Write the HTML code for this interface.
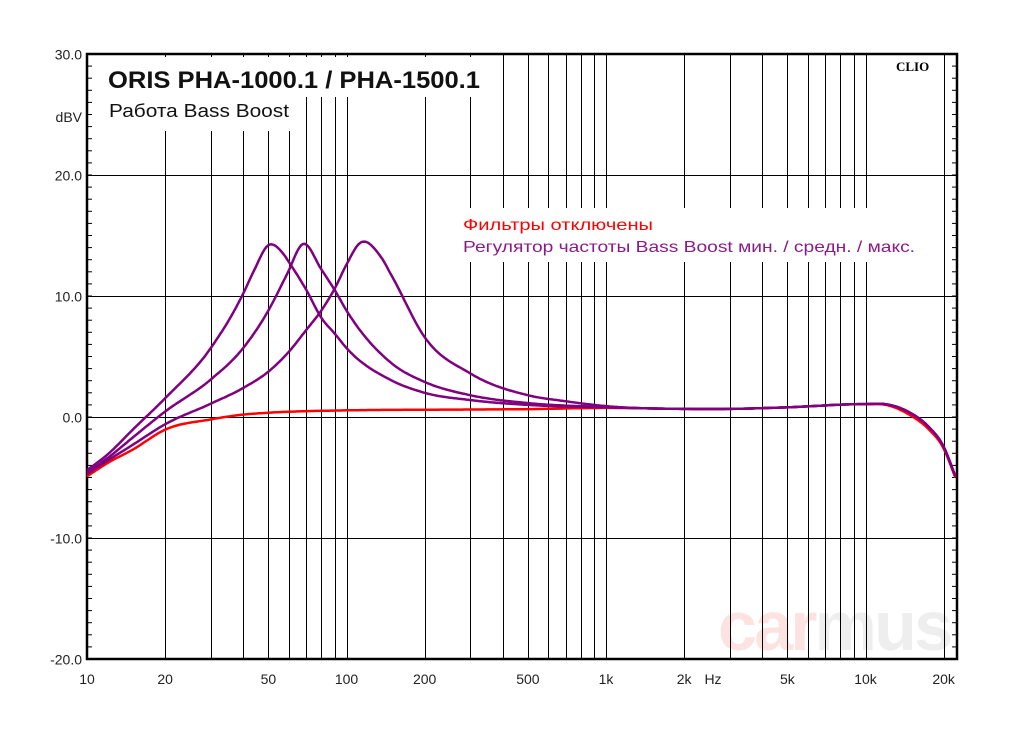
<!DOCTYPE html>
<html><head><meta charset="utf-8"><style>
html,body{margin:0;padding:0;background:#fff;width:1024px;height:730px;overflow:hidden}
svg text{font-family:"Liberation Sans",sans-serif}
</style></head><body>
<svg id="chart" width="1024" height="730" viewBox="0 0 1024 730" xmlns="http://www.w3.org/2000/svg">
<g id="wm"><text x="718" y="650" font-size="70" font-weight="bold" letter-spacing="-3" textLength="232"><tspan fill="#fde2e2">car</tspan><tspan fill="#eeeeee">mus</tspan></text></g>
<g id="grid"></g>
<rect x="100" y="57" width="392" height="40" fill="#fff"/>
<rect x="100" y="97" width="200" height="34" fill="#fff"/>
<rect x="458" y="208" width="464" height="54" fill="#fff"/>
<g id="axes"></g>
<g id="curves"></g>
<text x="108" y="88" font-size="24" font-weight="bold" fill="#111" textLength="372" lengthAdjust="spacingAndGlyphs">ORIS PHA-1000.1 / PHA-1500.1</text>
<text x="109" y="117" font-size="18" fill="#111" textLength="180" lengthAdjust="spacingAndGlyphs">Работа Bass Boost</text>
<text x="463" y="230" font-size="16" fill="#ff0000" textLength="190" lengthAdjust="spacingAndGlyphs">Фильтры отключены</text>
<text x="463" y="252" font-size="16" fill="#8b1a8b" textLength="452" lengthAdjust="spacingAndGlyphs">Регулятор частоты Bass Boost мин. / средн. / макс.</text>
<text x="896" y="71" font-size="13" font-weight="bold" style="font-family:'Liberation Serif',serif">CLIO</text>
<text x="82" y="122" font-size="14" text-anchor="end" fill="#222">dBV</text>
<text x="713" y="684" font-size="14" text-anchor="middle" fill="#222">Hz</text>
</svg>
<script>
const yTicks=[30,20,10,0,-10,-20];
const yTickLabels=["30.0","20.0","10.0","0.0","-10.0","-20.0"];
const xTicks=[10,20,50,100,200,500,1000,2000,5000,10000,20000];
const xTickLabels=["10","20","50","100","200","500","1k","2k","5k","10k","20k"];
const redFreqs=[10,12,15,20,30,40,50,100,200,500,1000,2000,3000,5000,10000,12000,15000,17500,20000,22200];
const redVals=[-4.9,-3.8,-2.7,-1.05,-0.2,0.2,0.35,0.55,0.6,0.65,0.75,0.67,0.67,0.8,1.05,1.0,0.1,-1.0,-2.6,-5.0];
const minFreqs=[10,12,15,20,30,40,44,50,57,60,70,80,90,100,150,200,300,500,1000,2000,3000,5000,10000,12000,15000,17500,20000,22200];
const minVals=[-4.4,-3.1,-1.05,1.55,5.7,10.2,12.1,14.2,13.5,12.8,10.5,8.2,6.9,5.7,3.0,2.0,1.4,1.0,0.8,0.67,0.67,0.8,1.07,1.05,0.3,-0.8,-2.45,-4.9];
const midFreqs=[10,12,15,20,30,40,50,59,68,80,90,100,150,200,300,500,1000,2000,3000,5000,10000,12000,15000,17500,20000,22200];
const midVals=[-4.6,-3.4,-1.7,0.45,3.1,5.7,8.8,11.8,14.3,12.2,10.5,8.8,4.4,2.9,1.8,1.15,0.82,0.67,0.67,0.8,1.07,1.05,0.3,-0.8,-2.45,-4.9];
const maxFreqs=[10,12,15,20,30,40,50,60,70,80,90,100,113,135,150,200,300,500,700,1000,2000,3000,5000,10000,12000,15000,17500,20000,22200];
const maxVals=[-4.7,-3.6,-2.3,-0.6,1.1,2.4,3.75,5.4,7.2,8.8,10.6,12.6,14.4,13.3,11.6,6.6,3.6,1.8,1.3,0.9,0.67,0.67,0.8,1.07,1.05,0.3,-0.8,-2.45,-4.9];
const NS='http://www.w3.org/2000/svg';
const L=87,R=957,T=54,B=659,DEC=259.5;
function xs(f){return L+DEC*Math.log10(f/10);}
function ys(v){return 417-12.1*v;}
function mk(tag,attrs,parent){const e=document.createElementNS(NS,tag);for(const k in attrs)e.setAttribute(k,attrs[k]);parent.appendChild(e);return e;}
const grid=document.getElementById('grid'),axes=document.getElementById('axes'),curves=document.getElementById('curves');
const vlines=[];for(let d=10;d<=1000;d*=10){for(let m=1;m<=9;m++)vlines.push(d*m);}vlines.push(10000,20000);
vlines.forEach(f=>{const x=Math.round(xs(f))+0.5;const ln=mk('line',{x1:x,x2:x,y1:T,y2:B,stroke:'#000','stroke-width':1},grid);

});
yTicks.forEach((v,i)=>{const y=Math.round(ys(v))+0.5;const ln=mk('line',{x1:L,x2:R,y1:y,y2:y,stroke:'#000','stroke-width':1},grid);


const t=mk('text',{x:82,y:y+5,'font-size':14,'text-anchor':'end',fill:'#222'},axes);t.textContent=yTickLabels[i];

});
for(let v=-20;v<=30;v++){const y=ys(v);const a=mk('line',{x1:L,x2:L+5,y1:y,y2:y,stroke:'#000','stroke-width':1},axes);


const b=mk('line',{x1:R-5,x2:R,y1:y,y2:y,stroke:'#000','stroke-width':1},axes);

}
xTicks.forEach((f,i)=>{const t=mk('text',{x:xs(f),y:684,'font-size':14,'text-anchor':'middle',fill:'#222'},axes);t.textContent=xTickLabels[i];

});
const frame=mk('rect',{x:L,y:T,width:R-L,height:B-T,fill:'none',stroke:'#000','stroke-width':2.5},axes);


// non-uniform cubic Hermite with finite-difference tangents, sampled densely
function pathFor(fr,vals){const X=fr.map(xs),Y=vals.map(ys),n=X.length;const m=new Array(n);
m[0]=(Y[1]-Y[0])/(X[1]-X[0]);m[n-1]=(Y[n-1]-Y[n-2])/(X[n-1]-X[n-2]);
for(let i=1;i<n-1;i++){const d0=(Y[i]-Y[i-1])/(X[i]-X[i-1]),d1=(Y[i+1]-Y[i])/(X[i+1]-X[i]);const w0=X[i+1]-X[i],w1=X[i]-X[i-1];m[i]=(d0*w0+d1*w1)/(w0+w1);}
let d='M'+X[0].toFixed(1)+','+Y[0].toFixed(1);
for(let i=0;i<n-1;i++){const h=X[i+1]-X[i];const steps=Math.max(2,Math.ceil(h/2));
for(let k=1;k<=steps;k++){const t=k/steps,t2=t*t,t3=t2*t;
const y=(2*t3-3*t2+1)*Y[i]+(t3-2*t2+t)*h*m[i]+(-2*t3+3*t2)*Y[i+1]+(t3-t2)*h*m[i+1];
d+=' L'+(X[i]+t*h).toFixed(1)+','+y.toFixed(1);}}return d;}
const series=[[redFreqs,redVals,'#ff0000','series-filters-off'],[maxFreqs,maxVals,'#800080','series-bass-boost-max'],[midFreqs,midVals,'#800080','series-bass-boost-mid'],[minFreqs,minVals,'#800080','series-bass-boost-min']];
series.forEach(s=>{const pth=mk('path',{d:pathFor(s[0],s[1]),fill:'none',stroke:s[2],'stroke-width':2.5,'stroke-linejoin':'round'},curves);

});
</script>
</body></html>
